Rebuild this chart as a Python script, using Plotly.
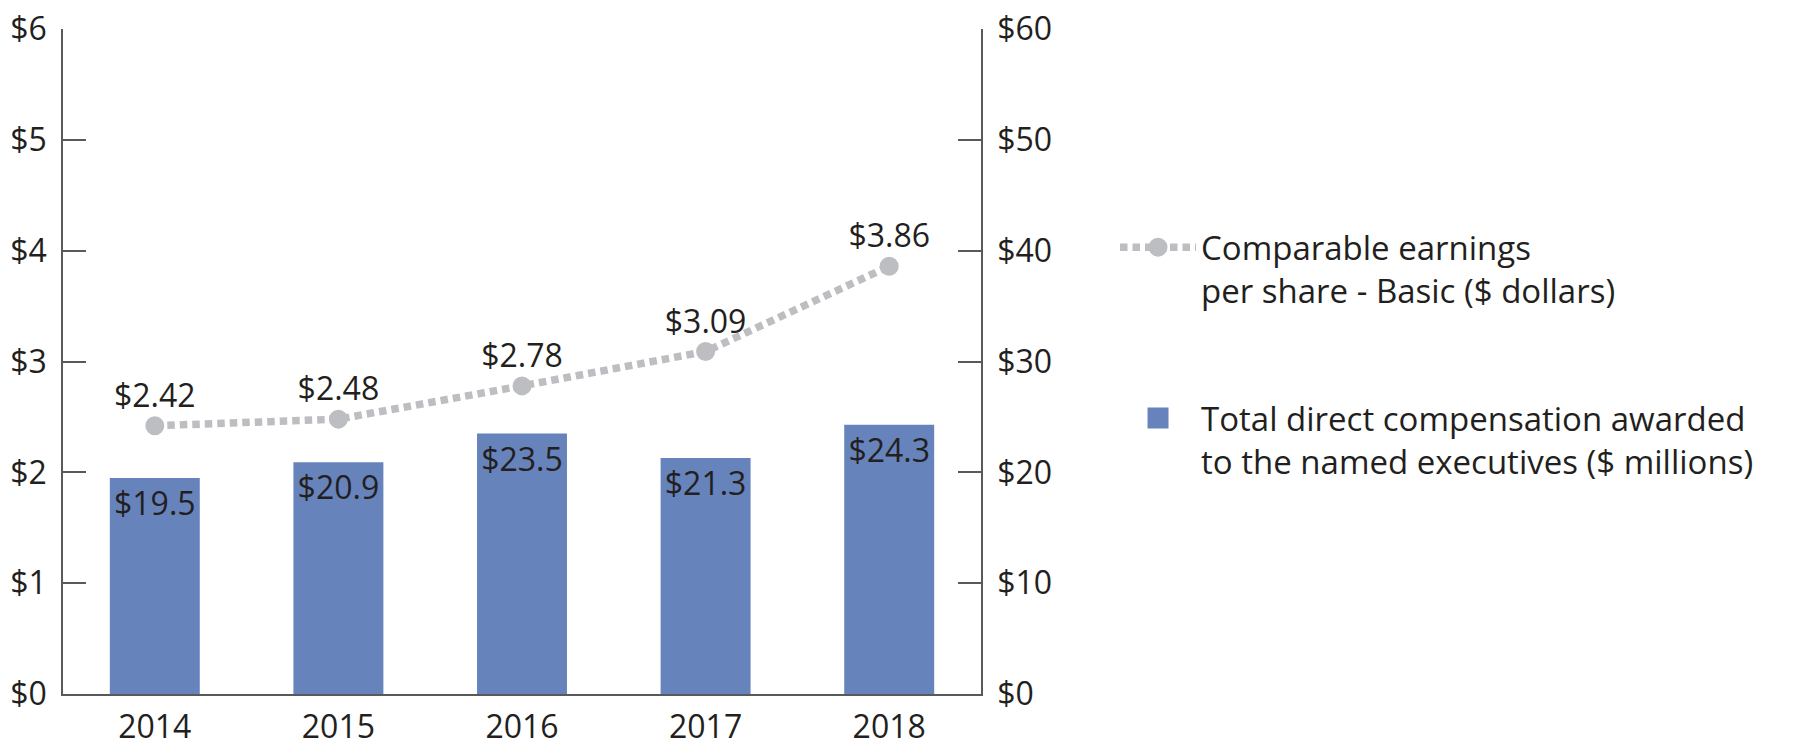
import plotly.graph_objects as go

years = ["2014", "2015", "2016", "2017", "2018"]
comp_millions = [19.5, 20.9, 23.5, 21.3, 24.3]
eps_basic = [2.42, 2.48, 2.78, 3.09, 3.86]

eps_name = "Comparable earnings<br>per share - Basic ($ dollars)"
comp_name = "Total direct compensation awarded<br>to the named executives ($ millions)"

FONT = "Open Sans"
TXT = "#231f20"
AX = "#58595b"
BAR = "#6783bb"
GRAY = "#bdbec1"
FS = 32

fig = go.Figure()

fig.add_trace(go.Bar(
    x=years, y=comp_millions, yaxis="y",
    marker=dict(color=BAR, line=dict(width=0)),
    text=["$" + f"{v:.1f}" for v in comp_millions],
    textposition="inside", insidetextanchor="end",
    textfont=dict(family=FONT, size=FS, color=TXT),
    textangle=0,
    showlegend=False, name=comp_name,
))

fig.add_trace(go.Scatter(
    x=years, y=eps_basic, yaxis="y2",
    mode="lines+markers+text",
    line=dict(color=GRAY, width=7.5, dash="7.5px,5px"),
    marker=dict(color=GRAY, size=16, line=dict(color=GRAY, width=3)),
    text=["$" + f"{v:.2f}" for v in eps_basic],
    textposition="top center",
    textfont=dict(family=FONT, size=FS, color=TXT),
    name=eps_name, legendgroup="a", legendrank=1, cliponaxis=False,
))

# legend proxy for bars (bigger square symbol)
fig.add_trace(go.Scatter(
    x=[None], y=[None], yaxis="y", mode="markers",
    marker=dict(symbol="square", color=BAR, size=29, line=dict(color=BAR, width=5)),
    name=comp_name, legendgroup="b", legendrank=2,
))

fig.update_layout(
    template="none",
    width=1793, height=753,
    margin=dict(l=63, r=812, t=29, b=59, autoexpand=False),
    paper_bgcolor="white", plot_bgcolor="white",
    font=dict(family=FONT, size=FS, color=TXT),
    bargap=0.51,
    uniformtext=dict(minsize=FS, mode="show"),
    xaxis=dict(
        showline=True, linecolor=AX, linewidth=1.5, automargin=False,
        ticks="", showgrid=False, tickfont=dict(size=FS, color=TXT),
        ticklabelstandoff=4,
    ),
    yaxis=dict(
        side="right", range=[0, 60], dtick=10, tickprefix="$",
        showline=True, linecolor=AX, linewidth=1.5, automargin=False,
        ticks="inside", ticklen=23, tickwidth=1.5, tickcolor=AX,
        showgrid=False, zeroline=False, tickfont=dict(size=FS, color=TXT),
        ticklabelstandoff=8,
    ),
    yaxis2=dict(
        side="left", overlaying="y", range=[0, 6], dtick=1, tickprefix="$",
        showline=True, linecolor=AX, linewidth=1.5, automargin=False,
        ticks="inside", ticklen=23, tickwidth=1.5, tickcolor=AX,
        showgrid=False, zeroline=False, tickfont=dict(size=FS, color=TXT),
        ticklabelstandoff=8,
    ),
    legend=dict(
        x=1.146, y=0.714, xanchor="left", yanchor="top",
        traceorder="grouped", tracegroupgap=82, valign="top",
        font=dict(family=FONT, size=33, color=TXT),
        itemwidth=76, bgcolor="rgba(0,0,0,0)", borderwidth=0,
    ),
)

fig.write_html("out.html")
